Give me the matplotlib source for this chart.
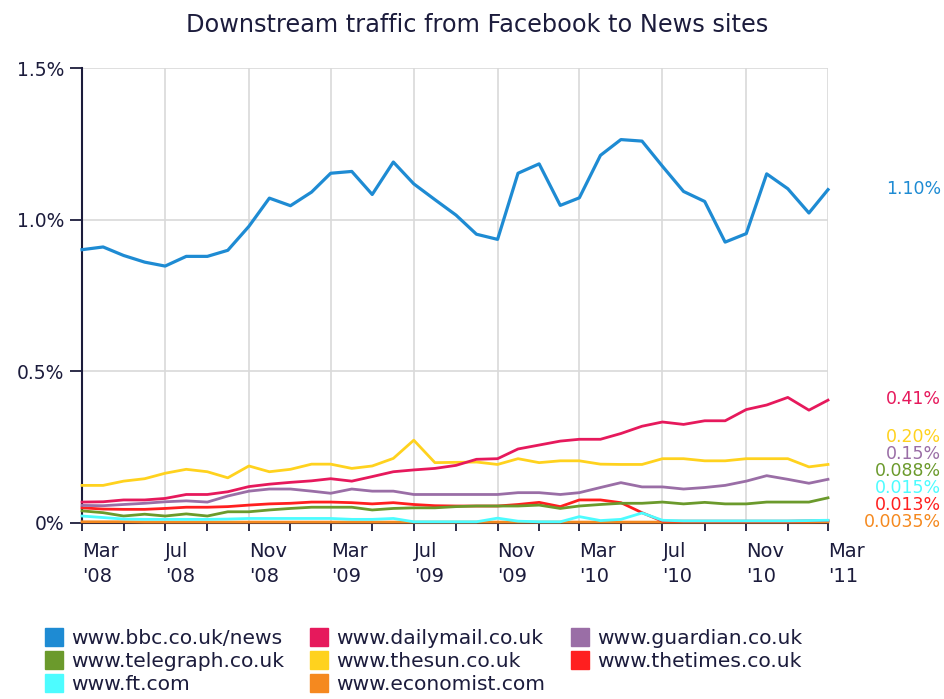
import numpy as np
import pandas as pd
import matplotlib
matplotlib.use("Agg")
import matplotlib.pyplot as plt
import matplotlib.dates as mdates
from matplotlib.lines import Line2D
from matplotlib.transforms import blended_transform_factory

# monthly share of downstream traffic (%), Mar 2008 .. Mar 2011
months = pd.date_range("2008-03-01", "2011-03-01", freq="MS")

bbc = [0.901, 0.910, 0.882, 0.860, 0.847, 0.879, 0.879, 0.899, 0.978, 1.071,
       1.046, 1.091, 1.153, 1.159, 1.083, 1.190, 1.118, 1.066, 1.015, 0.952,
       0.935, 1.153, 1.184, 1.047, 1.072, 1.212, 1.264, 1.259, 1.176, 1.093,
       1.060, 0.926, 0.954, 1.151, 1.102, 1.022, 1.099]
dailymail = [0.069, 0.070, 0.076, 0.076, 0.081, 0.094, 0.094, 0.103, 0.120, 0.128,
             0.134, 0.139, 0.146, 0.138, 0.153, 0.169, 0.175, 0.180, 0.190, 0.210,
             0.212, 0.244, 0.257, 0.270, 0.276, 0.276, 0.295, 0.319, 0.333, 0.325,
             0.337, 0.337, 0.374, 0.389, 0.414, 0.372, 0.405]
guardian = [0.058, 0.057, 0.061, 0.065, 0.070, 0.073, 0.069, 0.089, 0.105, 0.112,
            0.112, 0.105, 0.098, 0.112, 0.105, 0.105, 0.094, 0.094, 0.094, 0.094,
            0.094, 0.100, 0.100, 0.094, 0.100, 0.117, 0.133, 0.119, 0.119, 0.112,
            0.117, 0.124, 0.138, 0.156, 0.144, 0.131, 0.144]
telegraph = [0.040, 0.034, 0.023, 0.029, 0.023, 0.030, 0.023, 0.037, 0.037, 0.043,
             0.048, 0.052, 0.052, 0.052, 0.043, 0.048, 0.050, 0.050, 0.054, 0.056,
             0.056, 0.056, 0.059, 0.048, 0.056, 0.061, 0.065, 0.065, 0.069, 0.063,
             0.068, 0.063, 0.063, 0.069, 0.069, 0.069, 0.083]
thesun = [0.124, 0.124, 0.138, 0.146, 0.164, 0.177, 0.169, 0.149, 0.188, 0.169,
          0.177, 0.194, 0.194, 0.180, 0.188, 0.213, 0.273, 0.199, 0.200, 0.201,
          0.193, 0.212, 0.199, 0.205, 0.205, 0.194, 0.193, 0.193, 0.212, 0.212,
          0.205, 0.205, 0.212, 0.212, 0.212, 0.185, 0.193]
thetimes = [0.050, 0.046, 0.045, 0.045, 0.048, 0.052, 0.052, 0.054, 0.059, 0.063,
            0.065, 0.069, 0.069, 0.067, 0.063, 0.067, 0.061, 0.057, 0.056, 0.056,
            0.056, 0.061, 0.068, 0.054, 0.076, 0.076, 0.067, 0.034, 0.006, 0.006,
            0.006, 0.006, 0.006, 0.006, 0.006, 0.007, 0.008]
ft = [0.023, 0.018, 0.013, 0.012, 0.012, 0.012, 0.012, 0.013, 0.015, 0.015,
      0.015, 0.015, 0.015, 0.012, 0.012, 0.015, 0.004, 0.004, 0.004, 0.004,
      0.016, 0.006, 0.004, 0.004, 0.021, 0.008, 0.012, 0.033, 0.009, 0.007,
      0.007, 0.007, 0.007, 0.007, 0.007, 0.008, 0.009]
economist = [0.004, 0.004, 0.004, 0.003, 0.003, 0.003, 0.003, 0.003, 0.003, 0.003,
             0.003, 0.003, 0.003, 0.003, 0.003, 0.003, 0.003, 0.003, 0.003, 0.003,
             0.003, 0.003, 0.003, 0.003, 0.003, 0.003, 0.003, 0.003, 0.003, 0.003,
             0.003, 0.003, 0.003, 0.003, 0.003, 0.003, 0.0035]

names = ["www.bbc.co.uk/news", "www.dailymail.co.uk", "www.guardian.co.uk",
         "www.telegraph.co.uk", "www.thesun.co.uk", "www.thetimes.co.uk",
         "www.ft.com", "www.economist.com"]
series = [bbc, dailymail, guardian, telegraph, thesun, thetimes, ft, economist]
end_labels = ["1.10%", "0.41%", "0.15%", "0.088%", "0.20%", "0.013%", "0.015%", "0.0035%"]
end_values = [1.10, 0.41, 0.15, 0.088, 0.20, 0.013, 0.015, 0.0035]
colors = ["#1e8bd3", "#e6195c", "#9a6ea6", "#6b9a2c", "#ffd21e", "#ff1f1f",
          "#4dfcff", "#f5891f"]
# drawing order (higher on top)
zorders = [12, 11, 9, 7, 10, 6, 8, 5]

yticks = [0, 0.5, 1.0, 1.5]
ytick_labels = ["0%", "0.5%", "1.0%", "1.5%"]

TXT = "#1c1c3c"

plt.rcParams['font.family'] = ['DejaVu Sans']

fig = plt.figure(figsize=(9.44, 6.99), dpi=100)
ax = fig.add_axes([82 / 944, 1 - 523 / 699, (828 - 82) / 944, (523 - 68) / 699])

for i in range(len(series)):
    lw = 2.3 if i == 0 else 2.0
    ax.plot(months, series[i], color=colors[i], lw=lw, clip_on=False,
            solid_joinstyle='round', zorder=zorders[i])

ax.set_xlim(months[0], months[-1])
ax.set_ylim(0, 1.5)
ax.set_yticks(yticks)
ax.set_yticklabels(ytick_labels)

ax.xaxis.set_major_locator(mdates.MonthLocator(bymonth=[3, 7, 11]))
ax.xaxis.set_minor_locator(mdates.MonthLocator(bymonth=[1, 5, 9]))


def month_fmt(x, pos=None):
    d = mdates.num2date(x)
    return d.strftime("%b") + "\n'" + d.strftime("%y")


ax.xaxis.set_major_formatter(plt.FuncFormatter(month_fmt))

ax.grid(True, which='major', color='#d9d9d9', lw=1.2)
ax.set_axisbelow(True)
for s in ['top', 'right']:
    ax.spines[s].set_visible(False)
for s in ['left', 'bottom']:
    ax.spines[s].set_color(TXT)
    ax.spines[s].set_linewidth(1.5)
    ax.spines[s].set_zorder(2)

ax.tick_params(axis='y', which='major', length=9, width=1.3, color=TXT,
               labelcolor=TXT, labelsize=13.5, pad=4)
ax.tick_params(axis='x', which='both', length=6, width=1.3, color=TXT,
               labelcolor=TXT, labelsize=14, pad=8)
for lab in ax.get_xticklabels():
    lab.set_horizontalalignment('left')
    lab.set_linespacing(1.35)

fig.text(477 / 944, 1 - 25 / 699, "Downstream traffic from Facebook to News sites",
         ha='center', va='center', fontsize=17.3, color=TXT)

# end-of-line value labels, pushed apart where they would overlap
tr = blended_transform_factory(fig.transFigure, ax.transData)
order = sorted(range(len(series)), key=lambda k: end_values[k])
gap = 0.056
prev = -1.0
for k in order:
    y = max(end_values[k], prev + gap)
    prev = y
    ax.text(941 / 944, y, end_labels[k], transform=tr, ha='right', va='center',
            fontsize=12.5, color=colors[k], clip_on=False)

# legend, column-major fill to match rows of three
handles = [Line2D([], [], marker='s', ls='none', markersize=13,
                  markerfacecolor=c, markeredgecolor=c) for c in colors]
leg_order = [0, 3, 6, 1, 4, 7, 2, 5]
fig.legend([handles[k] for k in leg_order], [names[k] for k in leg_order],
           ncol=3, loc='upper left', bbox_to_anchor=(36 / 944, 1 - 619 / 699),
           frameon=False, fontsize=14.6, handlelength=0.8, handletextpad=0.42,
           columnspacing=1.35, labelspacing=0.2, borderpad=0, labelcolor=TXT)

fig.savefig("out.png", dpi=100, facecolor='white')
